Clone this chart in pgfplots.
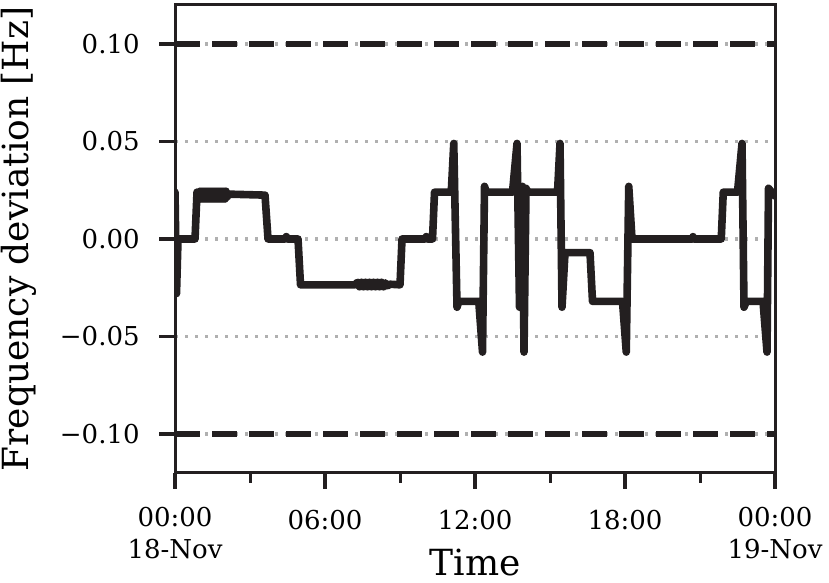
\documentclass[border=0pt]{standalone}
\usepackage{fontspec}
\setmainfont{DejaVu Serif}
\usepackage{pgfplots}
\pgfplotsset{compat=1.18}
\definecolor{ink}{RGB}{35,31,32}
\definecolor{gridgray}{RGB}{176,176,176}

\begin{document}
\begin{tikzpicture}
\begin{axis}[
  scale only axis,
  width=300pt,height=234pt,
  xmin=0,xmax=24,ymin=-0.12,ymax=0.12,
  axis line style={line width=1.5pt,ink},
  tick pos=left,tick align=outside,
  major tick length=8pt,minor tick length=5pt,
  tick style={line width=1.5pt,ink},
  major tick style={line width=1.8pt},
  xtick={6,12,18},
  xticklabels={06:00,12:00,18:00},
  minor xtick={3,9,15,21},
  extra x ticks={0,24},
  extra x tick labels={{00:00\\18-Nov},{00:00\\19-Nov}},
  extra x tick style={xticklabel style={yshift=1.5pt}},
  xticklabel style={anchor=north,inner sep=0pt,yshift=-10.5pt,align=center,
    font=\fontsize{13}{16}\selectfont},
  ytick={-0.1,-0.05,0,0.05,0.1},
  yticklabels={−0.10,−0.05,0.00,0.05,0.10},
  yticklabel style={anchor=east,inner sep=0pt,xshift=-9.5pt,
    font=\fontsize{13}{16}\selectfont},
  ymajorgrids,
  grid style={line width=1.6pt,gridgray,dash pattern=on 1.6pt off 3.4pt},
  xlabel={Time},
  ylabel={Frequency deviation [Hz]},
  label style={font=\fontsize{18}{21}\selectfont,inner sep=0pt},
  xlabel style={at={(axis description cs:0.5,0)},anchor=north,yshift=-38pt},
  ylabel style={at={(axis description cs:-0.23,0.5)},anchor=south,rotate=0},
]
\coordinate (ll) at (rel axis cs:-0.2917,-0.2350);
\coordinate (ur) at (rel axis cs:1.0900,1.0107);

\addplot[ink,line width=3pt,dash pattern=on 12.5pt off 6pt] coordinates {(0,0.1)(24,0.1)};
\addplot[ink,line width=3pt,dash pattern=on 12.5pt off 6pt] coordinates {(0,-0.1)(24,-0.1)};

\addplot[ink,line width=3.8pt,line join=round,line cap=round] coordinates {
  (0.00,0.024)(0.06,-0.028)(0.12,0.000)(0.80,0.000)(0.88,0.024)
  (0.96,0.0205)(1.00,0.0245)(1.04,0.0205)(1.08,0.0245)(1.12,0.0205)(1.16,0.0245)
  (1.20,0.0205)(1.24,0.0245)(1.28,0.0205)(1.32,0.0245)(1.36,0.0205)(1.40,0.0245)
  (1.44,0.0205)(1.48,0.0245)(1.52,0.0205)(1.56,0.0245)(1.60,0.0205)(1.64,0.0245)
  (1.68,0.0205)(1.72,0.0245)(1.76,0.0205)(1.80,0.0245)(1.84,0.0205)(1.88,0.0245)
  (1.92,0.0205)(1.96,0.0245)(2.00,0.0205)(2.04,0.0245)(2.08,0.0215)(2.15,0.023)
  (3.60,0.0225)(3.72,0.000)(4.40,0.000)(4.45,0.0012)(4.50,0.000)(4.92,0.000)
  (5.02,-0.0235)(7.20,-0.0235)
  (7.30,-0.0222)(7.38,-0.0245)(7.46,-0.0222)(7.54,-0.0245)(7.62,-0.0222)(7.70,-0.0245)
  (7.78,-0.0222)(7.86,-0.0245)(7.94,-0.0222)(8.02,-0.0245)(8.10,-0.0222)(8.18,-0.0245)
  (8.26,-0.0222)(8.34,-0.0245)(8.42,-0.0225)(8.50,-0.0240)(8.60,-0.0232)
  (9.00,-0.0235)(9.08,0.000)(10.00,0.000)(10.05,0.0012)(10.10,0.000)(10.30,0.000)
  (10.38,0.024)(11.05,0.024)(11.15,0.049)(11.28,-0.035)(11.35,-0.032)
  (12.15,-0.032)(12.30,-0.058)(12.38,0.027)(12.45,0.024)
  (13.50,0.024)(13.68,0.049)(13.78,-0.035)(13.90,0.027)(13.96,-0.058)(14.04,0.026)(14.12,0.024)
  (15.30,0.024)(15.40,0.049)(15.48,-0.035)(15.60,-0.007)(16.60,-0.007)
  (16.70,-0.032)(17.90,-0.032)(18.05,-0.058)(18.15,0.027)(18.28,0.000)
  (20.70,0.000)(20.72,0.0012)(20.75,0.000)(21.85,0.000)
  (21.93,0.024)(22.50,0.024)(22.68,0.049)(22.76,-0.035)(22.85,-0.032)
  (23.52,-0.032)(23.68,-0.058)(23.74,0.026)(24.00,0.022)};
\end{axis}
\useasboundingbox (ll) rectangle (ur);
\end{tikzpicture}
\end{document}
